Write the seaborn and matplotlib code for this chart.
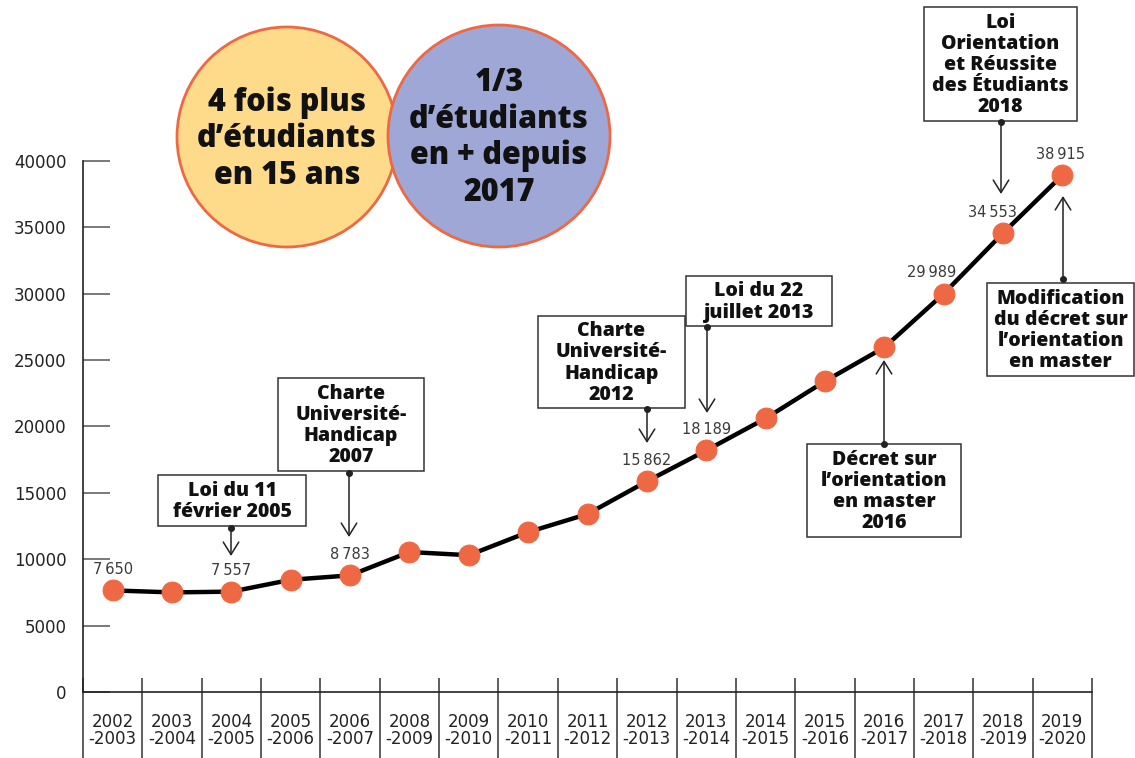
import numpy as np
import pandas as pd
import matplotlib
matplotlib.use("Agg")
import matplotlib.pyplot as plt
from matplotlib.patches import Rectangle, Ellipse
import seaborn as sns

# ---------------- data ----------------
years = ["2002\n-2003", "2003\n-2004", "2004\n-2005", "2005\n-2006", "2006\n-2007",
         "2008\n-2009", "2009\n-2010", "2010\n-2011", "2011\n-2012", "2012\n-2013",
         "2013\n-2014", "2014\n-2015", "2015\n-2016", "2016\n-2017", "2017\n-2018",
         "2018\n-2019", "2019\n-2020"]
students = [7650, 7500, 7557, 8450, 8783, 10540, 10300, 12040, 13400, 15862,
            18189, 20600, 23400, 25950, 29989, 34553, 38915]
labelled = [0, 2, 4, 9, 10, 14, 15, 16]
yticks = [0, 5000, 10000, 15000, 20000, 25000, 30000, 35000, 40000]

events = [
    "Loi du 11\nfévrier 2005",
    "Charte\nUniversité-\nHandicap\n2007",
    "Charte\nUniversité-\nHandicap\n2012",
    "Loi du 22\njuillet 2013",
    "Décret sur\nl’orientation\nen master\n2016",
    "Loi\nOrientation\net Réussite\ndes Étudiants\n2018",
    "Modification\ndu décret sur\nl’orientation\nen master",
]
bubble_texts = ["4 fois plus\nd’étudiants\nen 15 ans",
                "1/3\nd’étudiants\nen + depuis\n2017"]

# ---------------- layout (pixels of a 1135x758 canvas) ----------------
W, H = 1135, 758
AX_L, AX_R, AX_B = 83, 1092, 692
PX_PER_UNIT = 13.28 / 1000.0

# box bounds (x0, x1, y0, y1), arrow start (x, y), arrow tip (x, y)
event_layout = [
    ((158, 306, 475, 526), (231, 528), (231, 556)),
    ((278, 424, 378, 471), (349, 473), (349, 537)),
    ((538, 685, 316, 408), (647, 409), (647, 443)),
    ((686, 832, 276, 326), (707, 327), (707, 413)),
    ((807, 961, 444, 537), (884, 444), (884, 360)),
    ((924, 1077, 7, 121), (1001, 122), (1001, 194)),
    ((987, 1134, 283, 376), (1063, 279), (1063, 196)),
]
label_dx = {14: -8.5, 15: -7.5, 16: -1.5}
bubble_layout = [((287, 137), 110, "#FDDB8B"), ((499, 136), 111, "#9EA7D6")]
ORANGE = "#EE6843"

sns.set_theme(style="white")
plt.rcParams["font.family"] = ["DejaVu Sans"]
BOLD = ["Open Sans", "DejaVu Sans"]

fig = plt.figure(figsize=(W / 100, H / 100), dpi=100)
ax = fig.add_axes([AX_L / W, 1 - AX_B / H, (AX_R - AX_L) / W, AX_B / H])


def P(px, py):
    return ((px - AX_L) / (AX_R - AX_L), (AX_B - py) / AX_B)


df = pd.DataFrame({"pos": np.arange(len(years)), "students": students})
sns.lineplot(data=df, x="pos", y="students", ax=ax, color="black", lw=3.2,
             marker="o", markersize=15, markerfacecolor=ORANGE,
             markeredgecolor=ORANGE, zorder=4)

ax.set_xlim(-0.5, len(years) - 0.5)
ax.set_ylim(0, AX_B / PX_PER_UNIT)
ax.set_xlabel("")
ax.set_ylabel("")

# axes styling
for s in ["top", "right"]:
    ax.spines[s].set_visible(False)
ax.spines["left"].set_bounds(0, 40000)
for s in ["left", "bottom"]:
    ax.spines[s].set_color("#222")
    ax.spines[s].set_linewidth(1.2)
ax.set_yticks(yticks)
ax.set_yticklabels([str(v) for v in yticks], fontsize=12, color="#222")
ax.tick_params(axis="y", direction="in", length=19.5, width=1.1,
               color="#555", pad=12, left=True)
ax.set_xticks(np.arange(len(years)))
ax.set_xticklabels(years, fontsize=12, color="#222", linespacing=0.95)
ax.tick_params(axis="x", length=0, pad=15)
ax.grid(False)

# table separators
ax.vlines(np.arange(len(years) + 1) - 0.5, (AX_B - 758) / AX_B, (AX_B - 678) / AX_B,
          transform=ax.get_xaxis_transform(), clip_on=False, color="#333", lw=1.1)

# value labels
for i in labelled:
    v = students[i]
    txt = f"{v:,}".replace(",", "\u2009")
    ax.annotate(txt, xy=(i, v), xytext=(label_dx.get(i, 0), 15),
                textcoords="offset points", ha="center", va="center",
                fontsize=10.5, color="#3a3a3a", zorder=6)

# event boxes & arrows
for text, ((x0, x1, y0, y1), (sx, sy), (tx, ty)) in zip(events, event_layout):
    a0 = P(x0, y1)
    a1 = P(x1, y0)
    ax.add_patch(Rectangle(a0, a1[0] - a0[0], a1[1] - a0[1], transform=ax.transAxes,
                           facecolor="white", edgecolor="#333", lw=1.1,
                           clip_on=False, zorder=5))
    cx, cy = P((x0 + x1) / 2, (y0 + y1) / 2 + 1)
    ax.text(cx, cy, text, transform=ax.transAxes, ha="center", va="center",
            fontsize=14, fontweight="heavy", family=BOLD, color="#111",
            linespacing=1.08, zorder=6)
    ax.annotate("", xy=P(tx, ty), xycoords="axes fraction", xytext=P(sx, sy),
                textcoords="axes fraction",
                arrowprops=dict(arrowstyle="->,head_length=0.45,head_width=0.28",
                                mutation_scale=20, color="#222", lw=1.1,
                                shrinkA=0, shrinkB=0), zorder=6)
    ax.plot(*P(sx, sy), "o", ms=4, color="#222", transform=ax.transAxes,
            clip_on=False, zorder=7)

# bubbles
for text, ((cx, cy), r, col) in zip(bubble_texts, bubble_layout):
    fig.add_artist(Ellipse((cx / W, 1 - cy / H), 2 * r / W, 2 * r / H,
                           transform=fig.transFigure, facecolor=col,
                           edgecolor=ORANGE, lw=2, zorder=3))
for text, ((cx, cy), r, col) in zip(bubble_texts, bubble_layout):
    fig.text(cx / W, 1 - (cy + 2) / H, text, ha="center", va="center",
             fontsize=22, fontweight="heavy", family=BOLD, color="#111",
             linespacing=1.18, zorder=4)

fig.savefig("out.png", dpi=100)
